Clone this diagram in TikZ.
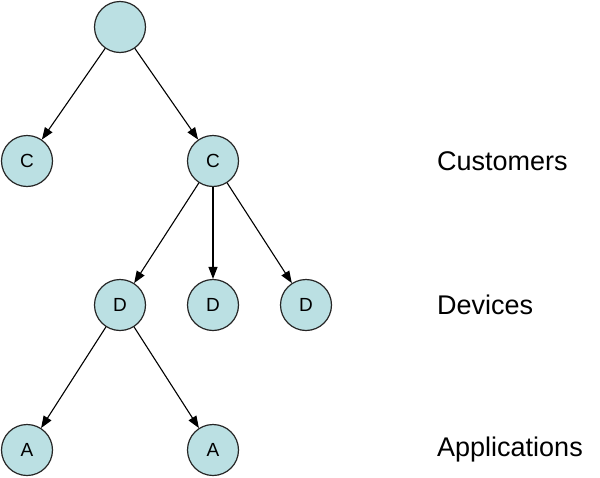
\documentclass[tikz,border=0pt]{standalone}
\usepackage{fontspec}
\setmainfont{Liberation Sans}
\usetikzlibrary{arrows.meta}
\definecolor{nodeblue}{RGB}{187,224,227}

\begin{document}
\begin{tikzpicture}[x=1pt,y=-1pt,
    ent/.style={circle,draw=black!85,line width=1.2pt,fill=nodeblue,
        minimum size=51pt,inner sep=0pt,font=\fontsize{19}{22}\selectfont},
    lvl/.style={anchor=west,inner sep=0pt,font=\fontsize{27}{32}\selectfont},
    link/.style={-{Triangle[length=12pt,width=9pt]},line width=1.1pt}]
    		\useasboundingbox (0,0) rectangle (600,477);

    		\node[ent] (root) at (120,27) {};
    		\node[ent] (c1) at (27,161) {C};
    		\node[ent] (c2) at (213,161) {C};
    		\node[ent] (d1) at (120,305) {D};
    		\node[ent] (d2) at (213,305) {D};
    		\node[ent] (d3) at (306,305) {D};
    		\node[ent] (a1) at (27,450) {A};
    		\node[ent] (a2) at (213,450) {A};

    		\draw[link] (root) -- (c1);
    		\draw[link] (root) -- (c2);
    		\draw[link] (c2) -- (d1);
    		\draw[link] (c2) -- (d2);
    		\draw[link] (c2) -- (d3);
    		\draw[link] (d1) -- (a1);
    		\draw[link] (d1) -- (a2);

    		\node[lvl] (cust) at (437,161) {Customers};
    		\node[lvl] (dev) at (437,305) {Devices};
    		\node[lvl] (app) at (437,450) {Applications};
\end{tikzpicture}
\end{document}
